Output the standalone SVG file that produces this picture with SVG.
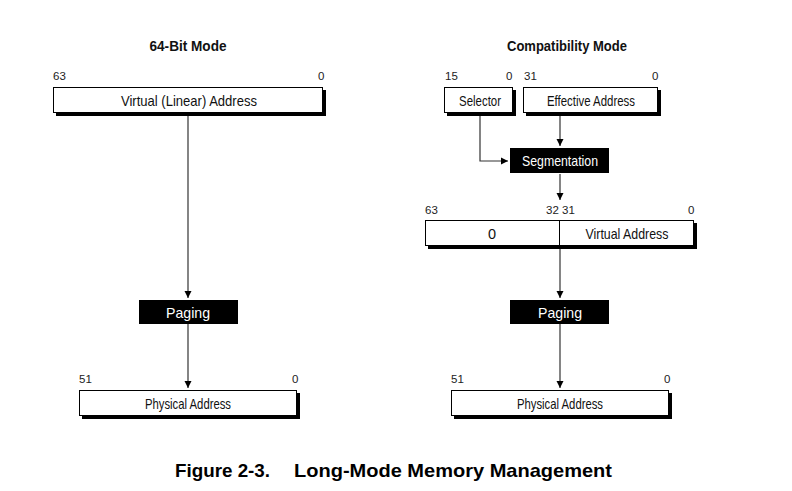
<svg xmlns="http://www.w3.org/2000/svg" width="792" height="491" viewBox="0 0 792 491">
<style>
.t{font-family:"Liberation Sans",Arial,sans-serif;font-size:14.5px;fill:#111;text-anchor:middle}
.n{font-family:"Liberation Sans",Arial,sans-serif;font-size:11.5px;fill:#222}
.h{font-family:"Liberation Sans",Arial,sans-serif;font-size:15px;font-weight:bold;fill:#111;text-anchor:middle}
.w{font-family:"Liberation Sans",Arial,sans-serif;font-size:14.5px;fill:#fff;text-anchor:middle}
.box{fill:#fff;stroke:#000;stroke-width:1}
.sh{fill:#000}
.blk{fill:#000}
.c{fill:none;stroke:#333;stroke-width:1.2}
.cap{font-family:"Liberation Sans",Arial,sans-serif;font-size:19px;font-weight:bold;fill:#000}
</style>
<defs>
<marker id="a" markerWidth="8" markerHeight="8" refX="7" refY="4" orient="auto" markerUnits="userSpaceOnUse">
<path d="M0,0.5 L7,4 L0,7.5 z" fill="#000"/>
</marker>
</defs>
<text class="h" x="188" y="51" textLength="77" lengthAdjust="spacingAndGlyphs">64-Bit Mode</text>
<text class="h" x="567" y="51" textLength="120" lengthAdjust="spacingAndGlyphs">Compatibility Mode</text>

<g id="conn">
<path class="c" d="M188,114 V298" marker-end="url(#a)"/>
<path class="c" d="M188,324 V388" marker-end="url(#a)"/>
<path class="c" d="M480,114 V161 H508" marker-end="url(#a)"/>
<path class="c" d="M560,114 V146" marker-end="url(#a)"/>
<path class="c" d="M560,174 V200" marker-end="url(#a)"/>
<path class="c" d="M560,249 V298" marker-end="url(#a)"/>
<path class="c" d="M560,324 V388" marker-end="url(#a)"/>
</g>

<g id="virtual64">
<rect class="sh" x="56" y="90" width="270" height="26"/>
<rect class="box" x="53.5" y="87.5" width="269" height="25"/>
<text class="t" x="189" y="105.5" textLength="136" lengthAdjust="spacingAndGlyphs">Virtual (Linear) Address</text>
<text class="n" x="53" y="80">63</text>
<text class="n" x="318" y="80">0</text>
</g>

<g id="paging64">
<rect class="blk" x="139" y="300" width="99" height="24"/>
<text class="w" x="188" y="317.5" textLength="44" lengthAdjust="spacingAndGlyphs">Paging</text>
</g>

<g id="phys64">
<rect class="sh" x="82" y="393" width="218" height="26"/>
<rect class="box" x="79.5" y="390.5" width="217" height="25"/>
<text class="t" x="188" y="408.5" textLength="86" lengthAdjust="spacingAndGlyphs">Physical Address</text>
<text class="n" x="79" y="383">51</text>
<text class="n" x="292" y="383">0</text>
</g>

<g id="selector">
<rect class="sh" x="447" y="90" width="69" height="26"/>
<rect class="box" x="444.5" y="87.5" width="68" height="25"/>
<text class="t" x="480" y="105.5" textLength="42" lengthAdjust="spacingAndGlyphs">Selector</text>
<text class="n" x="445" y="80">15</text>
<text class="n" x="506" y="80">0</text>
</g>

<g id="effective">
<rect class="sh" x="526" y="90" width="135" height="26"/>
<rect class="box" x="523.5" y="87.5" width="134" height="25"/>
<text class="t" x="591" y="105.5" textLength="88" lengthAdjust="spacingAndGlyphs">Effective Address</text>
<text class="n" x="524" y="80">31</text>
<text class="n" x="652" y="80">0</text>
</g>

<g id="segmentation">
<rect class="blk" x="510" y="148" width="99" height="25"/>
<text class="w" x="560" y="166" textLength="76" lengthAdjust="spacingAndGlyphs">Segmentation</text>
</g>

<g id="virtualcompat">
<rect class="sh" x="428" y="223" width="269" height="26"/>
<rect class="box" x="425.5" y="220.5" width="268" height="25"/>
<line x1="559.5" y1="220.5" x2="559.5" y2="245.5" stroke="#000" stroke-width="1"/>
<text class="t" x="492" y="238.5">0</text>
<text class="t" x="627" y="238.5" textLength="83" lengthAdjust="spacingAndGlyphs">Virtual Address</text>
<text class="n" x="425" y="214">63</text>
<text class="n" x="546" y="214">32 31</text>
<text class="n" x="688" y="214">0</text>
</g>

<g id="pagingcompat">
<rect class="blk" x="510" y="300" width="99" height="24"/>
<text class="w" x="560" y="317.5" textLength="44" lengthAdjust="spacingAndGlyphs">Paging</text>
</g>

<g id="physcompat">
<rect class="sh" x="454" y="393" width="218" height="26"/>
<rect class="box" x="451.5" y="390.5" width="217" height="25"/>
<text class="t" x="560" y="408.5" textLength="86" lengthAdjust="spacingAndGlyphs">Physical Address</text>
<text class="n" x="451" y="383">51</text>
<text class="n" x="664" y="383">0</text>
</g>

<text class="cap" x="175" y="477" textLength="95" lengthAdjust="spacingAndGlyphs">Figure 2-3.</text>
<text class="cap" x="294" y="477" textLength="318" lengthAdjust="spacingAndGlyphs">Long-Mode Memory Management</text>
</svg>
